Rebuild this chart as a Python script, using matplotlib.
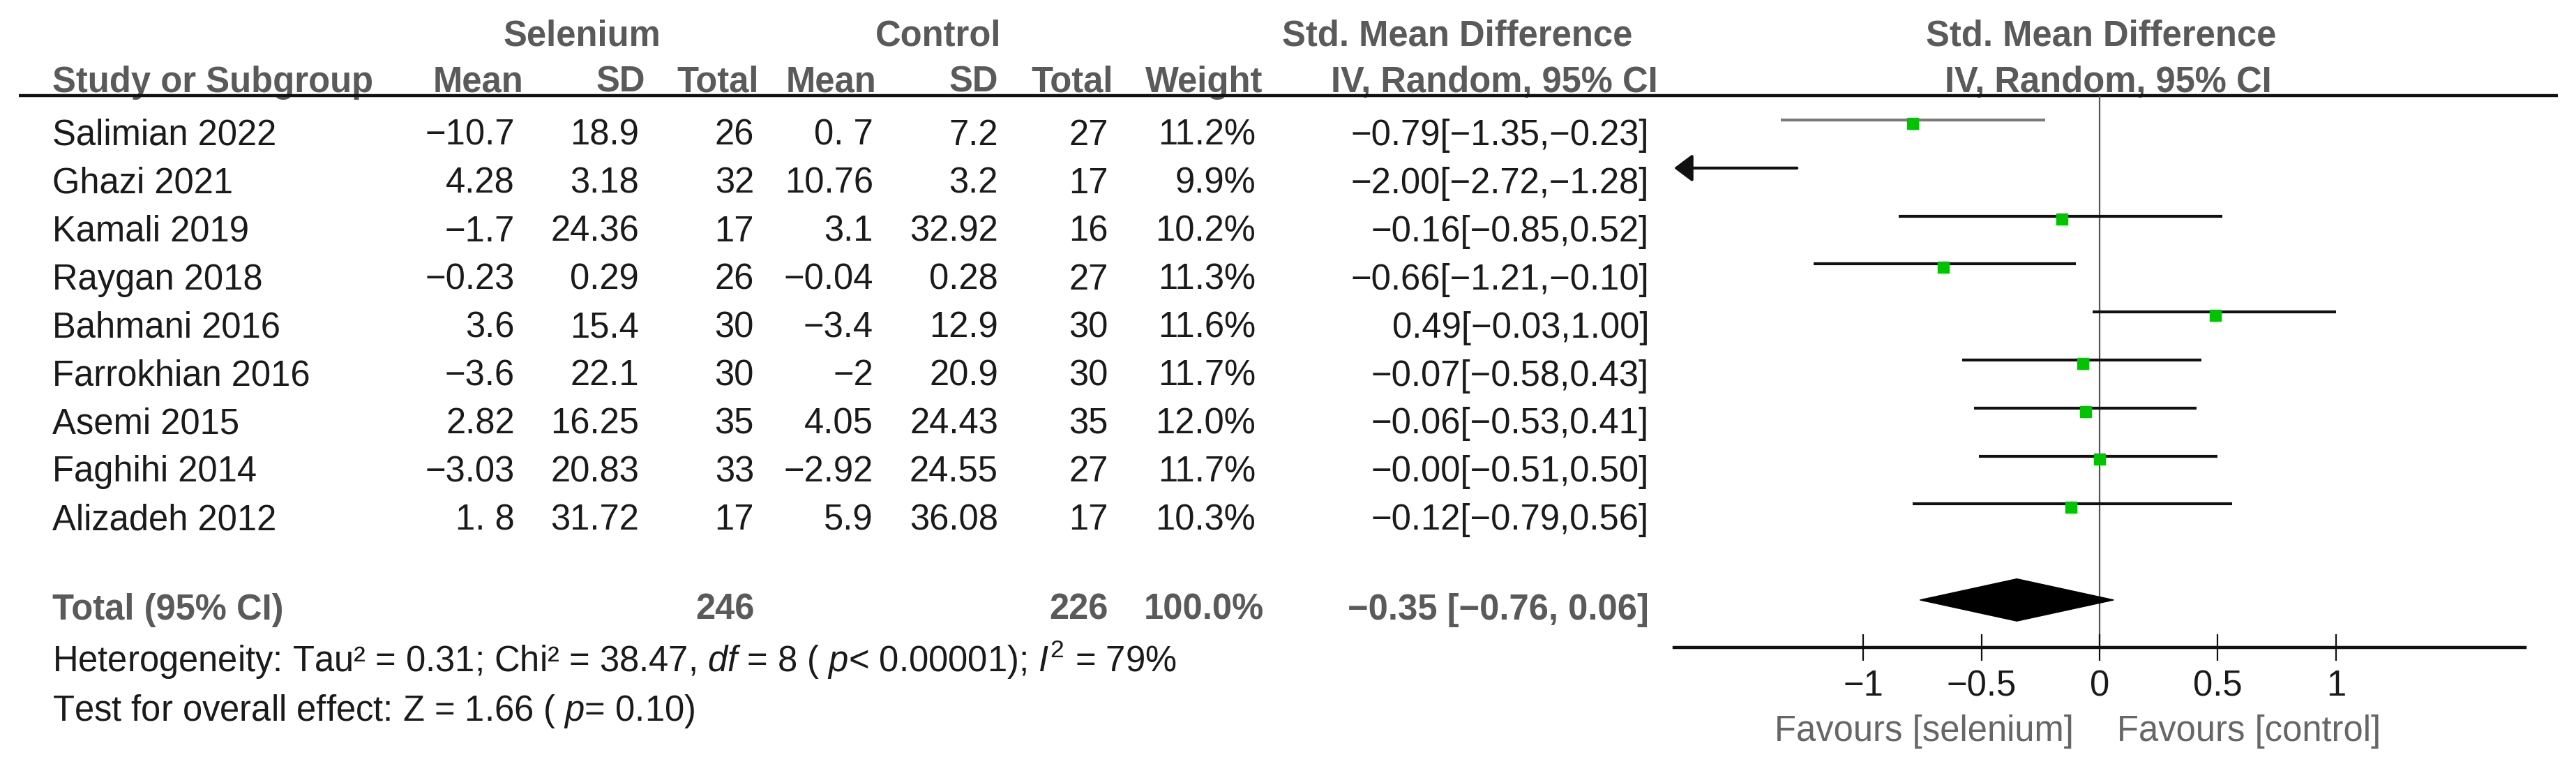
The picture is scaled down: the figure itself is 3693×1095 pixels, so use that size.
import matplotlib
matplotlib.use("Agg")
import matplotlib.pyplot as plt
from matplotlib.ticker import FixedLocator, FuncFormatter

# ---------------- data ----------------
studies = ["Salimian 2022", "Ghazi 2021", "Kamali 2019", "Raygan 2018", "Bahmani 2016",
           "Farrokhian 2016", "Asemi 2015", "Faghihi 2014", "Alizadeh 2012"]
sel_mean = ["−10.7", "4.28", "−1.7", "−0.23", "3.6", "−3.6", "2.82", "−3.03", "1. 8"]
sel_sd = ["18.9", "3.18", "24.36", "0.29", "15.4", "22.1", "16.25", "20.83", "31.72"]
sel_n = [26, 32, 17, 26, 30, 30, 35, 33, 17]
ctl_mean = ["0. 7", "10.76", "3.1", "−0.04", "−3.4", "−2", "4.05", "−2.92", "5.9"]
ctl_sd = ["7.2", "3.2", "32.92", "0.28", "12.9", "20.9", "24.43", "24.55", "36.08"]
ctl_n = [27, 17, 16, 27, 30, 30, 35, 27, 17]
weight = [11.2, 9.9, 10.2, 11.3, 11.6, 11.7, 12.0, 11.7, 10.3]
smd = [-0.79, -2.00, -0.16, -0.66, 0.49, -0.07, -0.06, -0.00, -0.12]
ci_lo = [-1.35, -2.72, -0.85, -1.21, -0.03, -0.58, -0.53, -0.51, -0.79]
ci_hi = [-0.23, -1.28, 0.52, -0.10, 1.00, 0.43, 0.41, 0.50, 0.56]
ci_colors = ["#7a7a7a"] + ["#111111"] * 8

total_sel_n = 246
total_ctl_n = 226
total_weight = 100.0
total_smd = -0.35
total_lo = -0.76
total_hi = 0.06

tick_vals = [-1, -0.5, 0, 0.5, 1]
xlim = (-1.8, 1.8)

# ---------------- style ----------------
plt.rcParams['font.family'] = ['Liberation Sans', 'DejaVu Sans']
plt.rcParams['mathtext.fontset'] = 'custom'
plt.rcParams['mathtext.rm'] = 'Liberation Sans'
plt.rcParams['mathtext.it'] = 'Liberation Sans:italic'
plt.rcParams['mathtext.bf'] = 'Liberation Sans:bold'

FS = 36.5
HDR = "#5a5a5a"
TXT = "#1a1a1a"
GREEN = "#00c400"

W, H = 3693, 1095
fig = plt.figure(figsize=(W / 100, H / 100), dpi=100)

# overlay axes in pixel coordinates for the table
ov = fig.add_axes([0, 0, 1, 1])
ov.set_xlim(0, W)
ov.set_ylim(H, 0)
ov.axis("off")


def fmt(v):
    return f"{v:.2f}".replace("-", "−")


def t(x, y, s, ha="right", bold=False, color=TXT):
    ov.text(x, y, s, ha=ha, va="baseline", fontsize=FS,
            fontweight="bold" if bold else "normal", color=color)


# headers
t(834, 65, "Selenium", ha="center", bold=True, color=HDR)
t(1345, 65, "Control", ha="center", bold=True, color=HDR)
t(2089, 65, "Std. Mean Difference", ha="center", bold=True, color=HDR)
t(3012, 65, "Std. Mean Difference", ha="center", bold=True, color=HDR)

hy = 132
t(75, hy, "Study or Subgroup", ha="left", bold=True, color=HDR)
t(750, hy, "Mean", bold=True, color=HDR)
t(925, hy, "SD", bold=True, color=HDR)
t(1088, hy, "Total", bold=True, color=HDR)
t(1256, hy, "Mean", bold=True, color=HDR)
t(1431, hy, "SD", bold=True, color=HDR)
t(1596, hy, "Total", bold=True, color=HDR)
t(1810, hy, "Weight", bold=True, color=HDR)
t(2142, hy, "IV, Random, 95% CI", ha="center", bold=True, color=HDR)
t(3022, hy, "IV, Random, 95% CI", ha="center", bold=True, color=HDR)

ov.plot([27, 3667], [137, 137], color="#111111", lw=3.2, solid_capstyle="butt", zorder=5)

# rows
row0, step = 208, 68.9
for i, name in enumerate(studies):
    y = row0 + i * step
    t(75, y, name, ha="left")
    t(738, y, sel_mean[i])
    t(916, y, sel_sd[i])
    t(1081, y, str(sel_n[i]))
    t(1252, y, ctl_mean[i])
    t(1431, y, ctl_sd[i])
    t(1589, y, str(ctl_n[i]))
    t(1800, y, f"{weight[i]:.1f}%")
    t(2364, y, f"{fmt(smd[i])}[{fmt(ci_lo[i])},{fmt(ci_hi[i])}]")

ty = 888
t(75, ty, "Total (95% CI)", ha="left", bold=True, color=HDR)
t(1082, ty, str(total_sel_n), bold=True, color=HDR)
t(1589, ty, str(total_ctl_n), bold=True, color=HDR)
t(1812, ty, f"{total_weight:.1f}%", bold=True, color=HDR)
t(2364, ty, f"{fmt(total_smd)} [{fmt(total_lo)}, {fmt(total_hi)}]", bold=True, color=HDR)

t(75, 963, "Heterogeneity: Tau² = 0.31; Chi² = 38.47, $\\mathit{df}$ = 8 ( $\\mathit{p}$< 0.00001); "
          "$\\mathit{I}^{2}$ = 79%", ha="left")
t(75, 1033, "Test for overall effect: Z = 1.66 ( $\\mathit{p}$= 0.10)", ha="left")

# ---------------- forest axes ----------------
top_px, bot_px = 137, 928
left_px, right_px = 2400, 3620
ax = fig.add_axes([left_px / W, (H - bot_px) / H, (right_px - left_px) / W, (bot_px - top_px) / H])
ax.set_facecolor("none")
ax.set_xlim(*xlim)
ax.set_ylim(10.99, -0.51)
for s in ("top", "left", "right"):
    ax.spines[s].set_visible(False)
ax.spines["bottom"].set_linewidth(3.2)
ax.spines["bottom"].set_color("#111111")
ax.yaxis.set_visible(False)
ax.xaxis.set_major_locator(FixedLocator(tick_vals))
ax.xaxis.set_major_formatter(FuncFormatter(lambda v, p: f"{v:g}".replace("-", "−")))
ax.tick_params(axis="x", direction="inout", length=27, width=1.6, color="#111111",
               labelsize=FS, labelcolor=TXT, pad=9)

ax.axvline(0, color="#555555", lw=1.6, zorder=1)

for i in range(len(studies)):
    lo, hi = ci_lo[i], ci_hi[i]
    if lo < xlim[0]:
        ax.annotate("", xy=(xlim[0], i), xytext=(hi, i),
                    arrowprops=dict(arrowstyle="-|>,head_length=0.8,head_width=0.6",
                                    color="#111111", lw=3.0, mutation_scale=20,
                                    shrinkA=0, shrinkB=0), annotation_clip=False)
    else:
        ax.plot([lo, hi], [i, i], color=ci_colors[i], lw=3.0, solid_capstyle="butt", zorder=2)
        ax.plot([smd[i]], [i + 0.07], marker="s", ms=11.5, color=GREEN, mec=GREEN, zorder=3)

yt = 10
dh = 0.44
ax.fill([total_lo, total_smd, total_hi, total_smd], [yt, yt - dh, yt, yt + dh],
        color="black", zorder=3)

ax.annotate("Favours [selenium]", xy=(0, 0), xycoords=("data", "axes fraction"),
            xytext=(-27, -96.5), textcoords="offset points", ha="right", va="baseline",
            fontsize=FS, color="#666666")
ax.annotate("Favours [control]", xy=(0, 0), xycoords=("data", "axes fraction"),
            xytext=(18, -96.5), textcoords="offset points", ha="left", va="baseline",
            fontsize=FS, color="#666666")

fig.savefig("out.png", dpi=100, facecolor="white")
